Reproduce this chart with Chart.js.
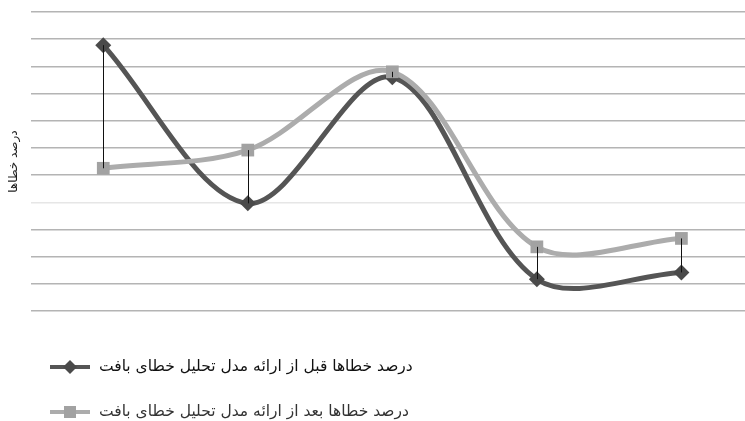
<!DOCTYPE html>
<html>
<head>
<meta charset="utf-8">
<script src="https://cdn.jsdelivr.net/npm/chart.js@4/dist/chart.umd.min.js"></script>
<style>
  html, body { margin: 0; padding: 0; background: #fff; }
  #wrap { width: 745px; height: 421px; }
</style>
</head>
<body>
<div id="wrap"><canvas id="errorChart" width="745" height="421"></canvas></div>
<script>
/*jshint esversion: 6 */

// data (y axis 0..11, no tick labels shown)
var categories = ['1', '2', '3', '4', '5'];
var beforeValues = [9.78, 3.96, 8.6, 1.17, 1.42];
var afterValues = [5.25, 5.92, 8.8, 2.36, 2.67];
var seriesLabels = [
  'درصد خطاها قبل از ارائه مدل تحلیل خطای بافت',
  'درصد خطاها بعد از ارائه مدل تحلیل خطای بافت'
];
var yTitle = 'درصد خطاها';
var yMax = 11;

var darkColor = '#555555';
var lightColor = '#acacac';
var textFont = '"DejaVu Sans", sans-serif';

function toPoints(values) {
  return values.map(function(v, i) {
    return { x: i + 1, y: v };
  });
}

// vertical high-low lines between the two series
var dropLines = {
  id: 'dropLines',
  afterDatasetsDraw: function(chart) {
    var a = chart.getDatasetMeta(0).data;
    var b = chart.getDatasetMeta(1).data;
    var ctx = chart.ctx;
    ctx.save();
    ctx.strokeStyle = '#111';
    ctx.lineWidth = 1;
    for (var i = 0; i < a.length; i++) {
      ctx.beginPath();
      ctx.moveTo(Math.round(a[i].x) + 0.5, a[i].y);
      ctx.lineTo(Math.round(a[i].x) + 0.5, b[i].y);
      ctx.stroke();
    }
    ctx.restore();
  }
};

// legend drawn as two rows under the plot
var rowLegend = {
  id: 'rowLegend',
  afterDraw: function(chart) {
    var ctx = chart.ctx;
    var rows = [367, 412];
    ctx.save();
    chart.data.datasets.forEach(function(ds, i) {
      var y = rows[i];
      ctx.strokeStyle = ds.borderColor;
      ctx.lineWidth = 4;
      ctx.beginPath();
      ctx.moveTo(50, y);
      ctx.lineTo(90, y);
      ctx.stroke();
      ctx.fillStyle = ds.pointBackgroundColor;
      ctx.beginPath();
      if (ds.pointStyle === 'rectRot') {
        ctx.moveTo(70, y - 7);
        ctx.lineTo(77, y);
        ctx.lineTo(70, y + 7);
        ctx.lineTo(63, y);
      } else {
        ctx.rect(64, y - 6, 12, 12);
      }
      ctx.closePath();
      ctx.fill();
      ctx.fillStyle = i === 0 ? '#111' : '#333';
      ctx.font = '15.5px ' + textFont;
      ctx.textBaseline = 'middle';
      ctx.textAlign = 'left';
      ctx.fillText(ds.label, 99, y);
    });
    ctx.restore();
  }
};

var ctx = document.getElementById('errorChart').getContext('2d');
var errorChart = new Chart(ctx, {
  type: 'line',
  data: {
    labels: categories,
    datasets: [{
        label: seriesLabels[0],
        data: toPoints(beforeValues),
        borderColor: darkColor,
        borderWidth: 5,
        pointStyle: 'rectRot',
        pointRadius: 8,
        pointBackgroundColor: '#4a4a4a',
        pointBorderWidth: 0,
        tension: 0.33,
        order: 2
      },
      {
        label: seriesLabels[1],
        data: toPoints(afterValues),
        borderColor: lightColor,
        borderWidth: 5,
        pointStyle: 'rect',
        pointRadius: 9,
        pointBackgroundColor: '#a2a2a2',
        pointBorderWidth: 0,
        tension: 0.33,
        order: 1
      }
    ]
  },
  options: {
    responsive: false,
    animation: false,
    layout: {
      autoPadding: false,
      padding: { top: 12, right: 0, bottom: 110, left: 0 }
    },
    plugins: {
      legend: { display: false },
      tooltip: { enabled: false }
    },
    scales: {
      x: {
        type: 'linear',
        display: false,
        min: 0.5,
        max: 5.44
      },
      y: {
        min: 0,
        max: yMax,
        afterFit: function(scale) {
          scale.width = 31;
        },
        border: { display: false },
        ticks: { display: false, stepSize: 1 },
        grid: {
          drawTicks: false,
          lineWidth: 1.5,
          color: function(c) {
            return c.tick && c.tick.value === 4 ? '#e6e6e6' : '#b4b4b4';
          }
        },
        title: {
          display: true,
          text: yTitle,
          color: '#222',
          font: { family: textFont, size: 12 },
          padding: { top: 7, bottom: 0 }
        }
      }
    }
  },
  plugins: [dropLines, rowLegend]
});
</script>
</body>
</html>
